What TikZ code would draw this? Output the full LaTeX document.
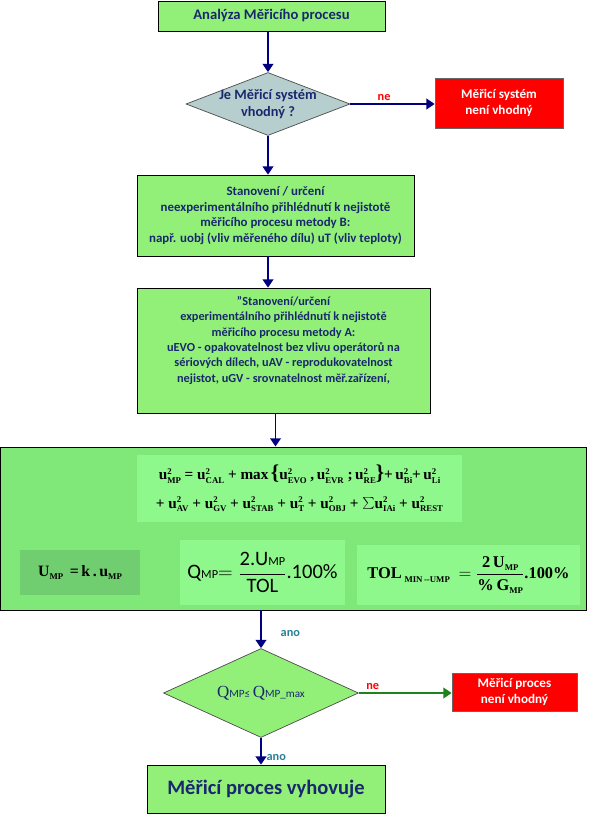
\documentclass[tikz,border=0pt]{standalone}
\usepackage{fontspec}
\setmainfont{Carlito}
\newfontfamily\tnr{Liberation Serif}
\usetikzlibrary{shapes.geometric}
\usetikzlibrary{arrows.meta}

\definecolor{boxgreen}{RGB}{146,240,120}
\definecolor{biggreen}{RGB}{128,232,120}
\definecolor{frmgreen}{RGB}{142,248,140}
\definecolor{ugreen}{RGB}{112,206,112}
\definecolor{diamgray}{RGB}{182,206,206}
\definecolor{navytext}{RGB}{25,40,110}
\definecolor{arrnavy}{RGB}{0,0,128}
\definecolor{anoteal}{RGB}{40,128,150}
\definecolor{negreen}{RGB}{30,130,30}

% u^2 with stacked index
\newcommand\usq[1]{u\rlap{\raisebox{.8ex}{\fontsize{7.5}{8}\selectfont 2}}\raisebox{-.5ex}{\fontsize{7.5}{8}\selectfont #1}}
\newcommand\lowidx[1]{\raisebox{-.5ex}{\fontsize{7.5}{8}\selectfont #1}}
\newcommand\bigbr[1]{{\fontsize{18}{18}\selectfont #1}}

\begin{document}
\begin{tikzpicture}[
            x=.03cm, y=-.03cm,
            box/.style={draw=black, line width=.6pt, fill=boxgreen, text=navytext,
                font=\fontsize{11}{13.4}\selectfont\bfseries, align=center, inner sep=0pt},
            badbox/.style={draw=black!60, line width=.6pt, fill=red, text=white,
                font=\fontsize{11.2}{13.6}\selectfont\bfseries, align=center, inner sep=0pt},
            diam/.style={diamond, draw=black!70, line width=.6pt, inner sep=0pt},
            diamtxt/.style={text=navytext, font=\fontsize{12.2}{15}\selectfont\bfseries,
                align=center, inner sep=0pt},
            frm/.style={draw=none, inner sep=0pt, align=center},
            arr/.style={-{Triangle[width=9pt,length=7pt]}, line width=1.6pt, draw=arrnavy},
            lbl/.style={font=\fontsize{10.5}{12}\selectfont\bfseries, inner sep=2pt},
        ]
            \useasboundingbox (0,0) rectangle (588,815);

            %% upper part: measuring system
            \node[box, font=\fontsize{12.5}{15}\selectfont\bfseries,
                minimum width=227*.03cm, minimum height=30*.03cm] (start) at (271.5,16)
                {Analýza Měřicího procesu};
            \node[diam, fill=diamgray, minimum width=164*.03cm, minimum height=63*.03cm] (d1) at (268,104) {};
            \node[diamtxt] (d1txt) at (d1.center) {Je Měřicí systém\\vhodný ?};
            \node[badbox, minimum width=128*.03cm, minimum height=50*.03cm] (bad1) at (499,103)
                {Měřicí systém\\není vhodný};
            \node[box, minimum width=277*.03cm, minimum height=81*.03cm] (methB) at (275.5,215.5)
                {Stanovení / určení\\
                 neexperimentálního přihlédnutí k nejistotě\\
                 měřicího procesu metody B:\\
                 např. uobj (vliv měřeného dílu) uT (vliv teploty)};
            \node[box, font=\fontsize{10.5}{13.2}\selectfont\bfseries,
                minimum width=293*.03cm, minimum height=125*.03cm] (methA) at (283.5,350.5)
                {"Stanovení/určení\\
                 experimentálního přihlédnutí k nejistotě\\
                 měřicího procesu metody A:\\
                 uEVO - opakovatelnost bez vlivu operátorů na\\
                 sériových dílech, uAV - reprodukovatelnost\\
                 nejistot, uGV - srovnatelnost měř.zařízení,\\[6pt]};

            %% formulas
            \node[draw=black, line width=.8pt, fill=biggreen, minimum width=586*.03cm,
                minimum height=163*.03cm, inner sep=0pt] (big) at (293.5,528.5) {};
            \node[frm, fill=frmgreen, font=\tnr\fontsize{13}{24}\selectfont\bfseries,
                minimum width=325*.03cm, minimum height=67*.03cm] (sumfrm) at (299.5,488.5)
                {\usq{MP} = \usq{CAL} + max\,\bigbr{\{}\usq{EVO} ,\,\usq{EVR} ;\,\usq{RE}\bigbr{\}}+\,\usq{Bi}+\,\usq{Li}\\
                 + \usq{AV} + \usq{GV} + \usq{STAB} + \usq{T} + \usq{OBJ} + \bigbr{$\sum$}\usq{IAi} + \usq{REST}};
            \node[frm, fill=ugreen, font=\tnr\fontsize{13.5}{15}\selectfont\bfseries,
                minimum width=120*.03cm, minimum height=45*.03cm] (ufrm) at (80,572.5)
                {U\lowidx{MP} \,=\,k\,.\,u\lowidx{MP}};
            \node[frm, fill=frmgreen, font=\fontsize{17.5}{19}\selectfont,
                minimum width=165*.03cm, minimum height=65*.03cm] (qfrm) at (262.5,572.5)
                {Q{\fontsize{10.5}{11}\selectfont MP}$=\displaystyle\frac{\mbox{2.U{\fontsize{10.5}{11}\selectfont MP}}}{\mbox{TOL}}$.100\%};
            \node[frm, fill=frmgreen, font=\tnr\fontsize{14}{16}\selectfont\bfseries,
                minimum width=223*.03cm, minimum height=60*.03cm] (tfrm) at (468.5,575)
                {TOL\,\lowidx{MIN\,--UMP} \;$=\displaystyle\frac{\mbox{2\,U\lowidx{MP}}}{\mbox{\%\,G\lowidx{MP}}}$.100\%};

            %% lower part: measuring process
            \node[diam, fill=boxgreen, minimum width=195*.03cm, minimum height=89*.03cm] (d2) at (261,693) {};
            \node[diamtxt, font=\mdseries] (d2txt) at (d2.center)
                {{\tnr\fontsize{14.5}{15}\selectfont Q}{\fontsize{9.5}{10}\selectfont MP≤ }{\tnr\fontsize{14.5}{15}\selectfont Q}{\fontsize{9.5}{10}\selectfont MP\_max}};
            \node[badbox, minimum width=125*.03cm, minimum height=38*.03cm] (bad2) at (514.5,692)
                {Měřicí proces\\není vhodný};
            \node[box, font=\fontsize{17.5}{20}\selectfont\bfseries, minimum width=238*.03cm, minimum height=48*.03cm] (final) at (266,789)
                {Měřicí proces vyhovuje};

            \draw[arr] (d1.north |- start.south) -- (d1.north);
            \draw[arr] (d1.east) -- (d1.east -| bad1.west)
                node[lbl, pos=.4, above, text=red] {ne};
            \draw[arr] (d1.south) -- (d1.south |- methB.north);
            \draw[arr] (methB.south -| d1.south) -- (methA.north -| d1.south);
            \draw[arr] (methA.south -| methB.south) -- (big.north -| methB.south);
            \draw[arr] (big.south -| d2.north) -- (d2.north)
                node[lbl, pos=.6, right=14pt, text=anoteal] {ano};
            \draw[arr, draw=negreen] (d2.east) -- (d2.east -| bad2.west)
                node[lbl, pos=.15, above, text=red] {ne};
            \draw[arr] (d2.south) -- (d2.south |- final.north)
                node[lbl, pos=.75, right=2pt, text=anoteal] {ano};
        \end{tikzpicture}
\end{document}
